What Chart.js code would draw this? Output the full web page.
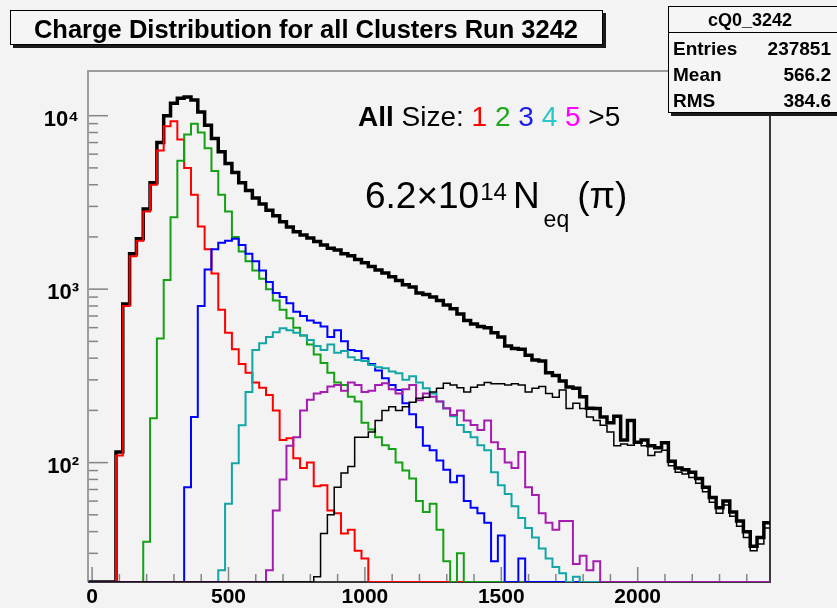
<!DOCTYPE html>
<html>
<head>
<meta charset="utf-8">
<title>Charge Distribution for all Clusters Run 3242</title>
<script src="https://cdn.jsdelivr.net/npm/chart.js@4.4.1/dist/chart.umd.min.js"></script>
<style>
  html, body { margin: 0; padding: 0; background: #f3f3f3; }
  #wrap { width: 837px; height: 608px; }
</style>
</head>
<body>
<div id="wrap"><canvas id="chargeDist" width="837" height="608"></canvas></div>
<script>
// histogram binning: 100 bins of 25, first lower edge at -12.5
var binWidth = 25;
var firstEdge = -12.5;

var xMin = -15, xMax = 2485;
var yMin = 20.5, yMax = 18100;
var xLabels = [0, 500, 1000, 1500, 2000];
var yLabels = { 100: '10\u00b2', 1000: '10\u00b3', 10000: '10\u2074' };

// bin contents per cluster size
var allClusters = [
  0, 0, 0, 0, 115, 820, 1600, 1950, 2900, 4100,
  7000, 10000, 11800, 12600, 12800, 12300, 10500, 8800, 7400, 6200,
  5300, 4700, 4100, 3700, 3350, 3100, 2850, 2650, 2450, 2280,
  2140, 2050, 1970, 1880, 1800, 1720, 1680, 1600, 1560, 1480,
  1420, 1350, 1290, 1240, 1180, 1120, 1060, 1030, 950, 930,
  900, 860, 810, 770, 720, 660, 630, 610, 600, 560,
  530, 470, 455, 450, 416, 390, 385, 330, 318, 295,
  273, 268, 240, 206, 205, 183, 170, 185, 135, 175,
  131, 135, 125, 122, 130, 102, 93, 91, 88, 81,
  72, 63, 55, 60, 52, 46, 40, 33, 37, 45
];
var size1 = [
  0, 0, 0, 0, 110, 800, 1550, 1900, 2800, 4000,
  6300, 8700, 9300, 7300, 5000, 3500, 2300, 1700, 1230, 760,
  560, 450, 370, 330, 290, 270, 245, 200, 135, 138,
  106, 93, 100, 73, 74, 53, 51, 39, 41, 31,
  28, 0, 0, 0, 0, 0, 0, 0, 0, 0,
  0, 0, 0, 0, 0, 0, 0, 0, 0, 0,
  0, 0, 0, 0, 0, 0, 0, 0, 0, 0,
  0, 0, 0, 0, 0, 0, 0, 0, 0, 0,
  0, 0, 0, 0, 0, 0, 0, 0, 0, 0,
  0, 0, 0, 0, 0, 0, 0, 0, 0, 0
];
var size2 = [
  0, 0, 0, 0, 0, 0, 0, 0, 35, 180,
  520, 1130, 2600, 5500, 7800, 9000, 8000, 6500, 4800, 3500,
  2800, 2000, 1650, 1450, 1280, 1150, 1000, 860, 760, 680,
  600, 540, 480, 420, 375, 330, 290, 280, 240, 225,
  170, 155, 140, 126, 120, 100, 90, 81, 60, 52,
  58, 41, 27, 0, 30, 0, 0, 0, 0, 0,
  0, 0, 0, 0, 0, 0, 0, 0, 0, 0,
  0, 0, 0, 0, 0, 0, 0, 0, 0, 0,
  0, 0, 0, 0, 0, 0, 0, 0, 0, 0,
  0, 0, 0, 0, 0, 0, 0, 0, 0, 0
];
var size3 = [
  0, 0, 0, 0, 0, 0, 0, 0, 0, 0,
  0, 0, 0, 0, 72, 183, 800, 1300, 1700, 1850,
  1900, 1950, 1800, 1600, 1450, 1280, 1100, 950, 900, 830,
  740, 700, 660, 640, 610, 530, 580, 500, 446, 440,
  400, 370, 340, 306, 280, 262, 220, 190, 160, 125,
  118, 103, 91, 77, 84, 60, 55, 51, 45, 27,
  38, 0, 0, 28, 0, 0, 0, 0, 0, 0,
  0, 0, 0, 0, 0, 0, 0, 0, 0, 0,
  0, 0, 0, 0, 0, 0, 0, 0, 0, 0,
  0, 0, 0, 0, 0, 0, 0, 0, 0, 0
];
var size4 = [
  0, 0, 0, 0, 0, 0, 0, 0, 0, 0,
  0, 0, 0, 0, 0, 0, 0, 0, 0, 24,
  58, 99, 164, 255, 446, 488, 530, 565, 595, 580,
  560, 540, 510, 470, 446, 480, 430, 440, 405, 390,
  385, 365, 355, 350, 335, 327, 300, 315, 290, 268,
  250, 225, 205, 185, 165, 150, 140, 126, 118, 88,
  74, 66, 56, 48, 42, 37, 32, 28, 25, 23,
  0, 22, 0, 0, 0, 0, 0, 0, 0, 0,
  0, 0, 0, 0, 0, 0, 0, 0, 0, 0,
  0, 0, 0, 0, 0, 0, 0, 0, 0, 0
];
var size5 = [
  0, 0, 0, 0, 0, 0, 0, 0, 0, 0,
  0, 0, 0, 0, 0, 0, 0, 0, 0, 0,
  0, 0, 0, 0, 0, 0, 24, 53, 80, 125,
  140, 200, 230, 250, 255, 275, 280, 260, 290, 280,
  255, 260, 280, 287, 265, 250, 265, 280, 229, 250,
  240, 225, 206, 188, 200, 175, 165, 154, 175, 131,
  120, 100, 93, 115, 72, 65, 51, 45, 41, 46,
  46, 26, 29, 24, 27, 0, 0, 0, 0, 0,
  0, 0, 0, 0, 0, 0, 0, 0, 0, 0,
  0, 0, 0, 0, 0, 0, 0, 0, 0, 0
];
var sizeOver5 = [
  0, 0, 0, 0, 0, 0, 0, 0, 0, 0,
  0, 0, 0, 0, 0, 0, 0, 0, 0, 0,
  0, 0, 0, 0, 0, 0, 0, 0, 0, 0,
  0, 0, 0, 22, 39, 50, 72, 87, 95, 140,
  140, 150, 175, 200, 210, 200, 210, 223, 235, 238,
  255, 268, 287, 280, 270, 255, 272, 280, 290, 285,
  285, 280, 285, 280, 255, 268, 275, 250, 238, 262,
  205, 220, 205, 183, 175, 164, 150, 125, 128, 126,
  131, 125, 110, 115, 118, 96, 88, 86, 82, 76,
  68, 59, 51, 57, 49, 43, 37, 31, 34, 42
];

var statsName = 'cQ0_3242';
var statsRows = [['Entries', '237851'], ['Mean', '566.2'], ['RMS', '384.6']];

var FONT = '"Liberation Sans", Arial, Helvetica, sans-serif';

// empty bins sit on the floor of the log axis, like ROOT does
function toSteps(counts) {
  var pts = counts.map(function (c, i) {
    return { x: firstEdge + i * binWidth, y: Math.max(c, yMin) };
  });
  var last = counts[counts.length - 1];
  pts.push({ x: firstEdge + counts.length * binWidth, y: Math.max(last, yMin) });
  return pts;
}

// first entry is drawn on top
var histos = [
  { label: '>5', counts: sizeOver5, color: '#000000', width: 1.5 },
  { label: '5', counts: size5, color: '#a51cb0', width: 2 },
  { label: '4', counts: size4, color: '#12a6a6', width: 2 },
  { label: '3', counts: size3, color: '#0000ff', width: 2 },
  { label: '2', counts: size2, color: '#15a015', width: 2 },
  { label: '1', counts: size1, color: '#ff0000', width: 2 },
  { label: 'All', counts: allClusters, color: '#000000', width: 3.5 }
];

var frameTicks = {
  id: 'frameTicks',
  beforeDatasetsDraw: function (chart) {
    var ctx = chart.ctx, a = chart.chartArea;
    var xs = chart.scales.x, ys = chart.scales.y;
    ctx.save();
    ctx.lineWidth = 1.5;
    ctx.strokeStyle = '#858585';
    xs.ticks.forEach(function (t) {
      var px = xs.getPixelForValue(t.value);
      var len = xLabels.indexOf(t.value) >= 0 ? 15 : 8;
      ctx.beginPath();
      ctx.moveTo(px, a.bottom);
      ctx.lineTo(px, a.bottom - len);
      ctx.stroke();
    });
    ys.ticks.forEach(function (t) {
      var py = ys.getPixelForValue(t.value);
      var len = yLabels[t.value] ? 20 : 10;
      ctx.beginPath();
      ctx.moveTo(a.left, py);
      ctx.lineTo(a.left + len, py);
      ctx.stroke();
    });
    // frame: light top/left, dark right/bottom
    ctx.lineWidth = 2;
    ctx.strokeStyle = '#9c9c9c';
    ctx.beginPath();
    ctx.moveTo(a.left, a.bottom);
    ctx.lineTo(a.left, a.top);
    ctx.lineTo(a.right, a.top);
    ctx.stroke();
    ctx.strokeStyle = '#3a3a3a';
    ctx.beginPath();
    ctx.moveTo(a.right, a.top);
    ctx.lineTo(a.right, a.bottom);
    ctx.lineTo(a.left, a.bottom);
    ctx.stroke();
    ctx.restore();
  }
};

function drawParts(ctx, parts, x, y, size) {
  ctx.font = size + 'px ' + FONT;
  var gap = ctx.measureText(' ').width;
  parts.forEach(function (p) {
    ctx.font = (p.bold ? 'bold ' : '') + size + 'px ' + FONT;
    ctx.fillStyle = p.color;
    ctx.fillText(p.text, x, y);
    x += ctx.measureText(p.text).width + gap;
  });
}

var panels = {
  id: 'panels',
  afterDraw: function (chart) {
    var ctx = chart.ctx;
    ctx.save();
    ctx.textBaseline = 'alphabetic';

    // title pave with shadow
    ctx.fillStyle = '#1a1a1a';
    ctx.fillRect(13, 13, 593, 35);
    ctx.fillStyle = '#f5f5f5';
    ctx.fillRect(10.5, 10.5, 592, 34);
    ctx.strokeStyle = '#000';
    ctx.lineWidth = 1;
    ctx.strokeRect(10.5, 10.5, 592, 34);
    ctx.fillStyle = '#000';
    ctx.font = 'bold 25.5px ' + FONT;
    ctx.textAlign = 'center';
    ctx.fillText('Charge Distribution for all Clusters Run 3242', 306, 38);

    // stats box: header row plus three equal rows
    ctx.fillStyle = '#1a1a1a';
    ctx.fillRect(671, 9, 180, 107);
    ctx.fillStyle = '#f5f5f5';
    ctx.fillRect(668.5, 6.5, 180, 106);
    ctx.strokeStyle = '#000';
    ctx.strokeRect(668.5, 6.5, 180, 106);
    ctx.beginPath();
    ctx.moveTo(668.5, 32.5);
    ctx.lineTo(837, 32.5);
    ctx.stroke();
    ctx.fillStyle = '#000';
    ctx.font = 'bold 18px ' + FONT;
    ctx.fillText(statsName, 750, 26);
    ctx.font = 'bold 19px ' + FONT;
    statsRows.forEach(function (r, i) {
      var y = 55 + i * 26;
      ctx.textAlign = 'left';
      ctx.fillText(r[0], 673, y);
      ctx.textAlign = 'right';
      ctx.fillText(r[1], 831, y);
    });

    // size legend
    ctx.textAlign = 'left';
    drawParts(ctx, [
      { text: 'All', color: '#000', bold: true },
      { text: 'Size:', color: '#000' },
      { text: '1', color: '#ff0000' },
      { text: '2', color: '#1ca81c' },
      { text: '3', color: '#1e1ee6' },
      { text: '4', color: '#2ac8c8' },
      { text: '5', color: '#ff00ff' },
      { text: '>5', color: '#000' }
    ], 358, 126, 28);

    // fluence label
    var x = 365;
    ctx.fillStyle = '#000';
    ctx.font = '37px ' + FONT;
    ctx.fillText('6.2\u00d710', x, 208);
    x += ctx.measureText('6.2\u00d710').width;
    ctx.font = '24px ' + FONT;
    ctx.fillText('14', x + 1, 200);
    x += ctx.measureText('14').width + 7;
    ctx.font = '37px ' + FONT;
    ctx.fillText('N', x, 208);
    x += ctx.measureText('N').width + 4;
    ctx.font = '23px ' + FONT;
    ctx.fillText('eq', x, 227);
    x += ctx.measureText('eq').width + 8;
    ctx.font = '37px ' + FONT;
    ctx.fillText('(\u03c0)', x, 208);
    ctx.restore();
  }
};

var ctx = document.getElementById('chargeDist').getContext('2d');
var chargeChart = new Chart(ctx, {
  type: 'line',
  data: {
    datasets: histos.map(function (h, i) {
      return {
        label: h.label,
        data: toSteps(h.counts),
        borderColor: h.color,
        borderWidth: h.width,
        stepped: true,
        pointRadius: 0,
        fill: false,
        order: i
      };
    })
  },
  options: {
    responsive: false,
    animation: false,
    events: [],
    layout: { padding: { top: 71, right: 67, bottom: 0, left: 0 } },
    plugins: {
      legend: { display: false },
      tooltip: { enabled: false },
      title: { display: false }
    },
    scales: {
      x: {
        type: 'linear',
        min: xMin,
        max: xMax,
        afterFit: function (s) { s.height = 26; },
        afterBuildTicks: function (s) {
          var t = [];
          for (var v = 0; v <= xMax; v += 100) t.push({ value: v });
          s.ticks = t;
        },
        grid: { display: false, drawTicks: false },
        border: { display: false },
        ticks: {
          autoSkip: false,
          maxRotation: 0,
          padding: 3,
          color: '#000',
          font: { family: FONT, size: 21, weight: 'bold' },
          callback: function (v) { return xLabels.indexOf(v) >= 0 ? String(v) : ''; }
        }
      },
      y: {
        type: 'logarithmic',
        min: yMin,
        max: yMax,
        afterFit: function (s) { s.width = 88; },
        afterBuildTicks: function (s) {
          var t = [];
          for (var e = 1; e <= 4; e++) {
            for (var m = 1; m <= 9; m++) {
              var v = m * Math.pow(10, e);
              if (v >= yMin && v <= yMax) t.push({ value: v });
            }
          }
          s.ticks = t;
        },
        grid: { display: false, drawTicks: false },
        border: { display: false },
        ticks: {
          autoSkip: false,
          padding: 9,
          labelOffset: 4,
          color: '#000',
          font: { family: FONT, size: 22, weight: 'bold' },
          callback: function (v) { return yLabels[v] || ''; }
        }
      }
    }
  },
  plugins: [frameTicks, panels]
});
</script>
</body>
</html>
